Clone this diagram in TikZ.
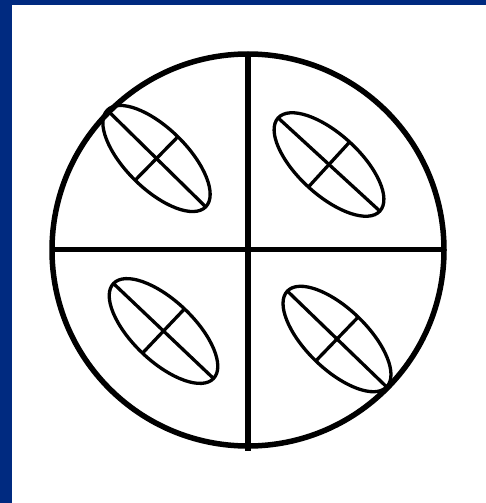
\documentclass[tikz,border=0pt]{standalone}
\definecolor{framblue}{RGB}{0,42,128}
\tikzset{
  heavy/.style={line width=5.5pt},
  thin/.style={line width=3.3pt},
}
\newcommand{\crossell}[3]{% center x, center y, angle
  \begin{scope}[shift={(#1,#2)},rotate=#3]
    \draw[thin] (0,0) ellipse [x radius=69, y radius=30.5];
    \draw[thin] (-69,0) -- (69,0);
    \draw[thin] (0,-30.5) -- (0,30.5);
  \end{scope}}
\begin{document}
\begin{tikzpicture}[x=1pt,y=-1pt]
  \useasboundingbox (0,0) rectangle (486,503);
  \fill[white] (0,0) rectangle (486,503);
  \fill[framblue] (0,0) rectangle (486,5);
  \fill[framblue] (0,0) rectangle (12,503);
  \coordinate (c) at (248,250);
  \draw[heavy] (c) circle [radius=196];
  \draw[heavy] (248,54) -- (248,451);
  \draw[heavy] (52,249.5) -- (444,249.5);
  \crossell{156.5}{158.5}{-44.5}
  \crossell{329}{164.5}{-42.5}
  \crossell{163.5}{331}{-43.5}
  \crossell{337}{339}{-44}
\end{tikzpicture}
\end{document}
